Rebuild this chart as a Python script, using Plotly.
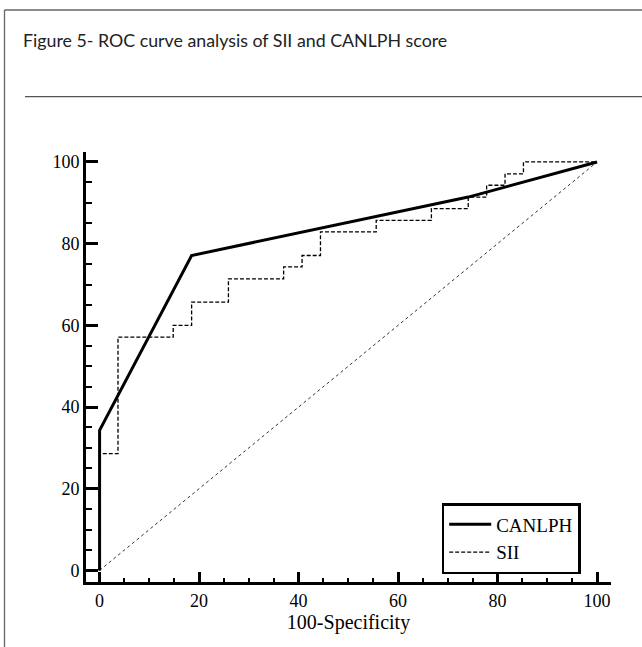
import plotly.graph_objects as go

# ---- data ----
canlph_fpr = [0, 0, 18.5, 74.1, 100]
canlph_tpr = [0, 34.3, 77.1, 91.4, 100]

sii_fpr = [0, 3.7, 14.8, 18.5, 25.9, 37.0, 40.7, 44.4, 55.6, 66.7, 74.1, 77.8, 81.5, 85.2, 100]
sii_tpr = [0, 28.6, 57.1, 60.0, 65.7, 71.4, 74.3, 77.1, 82.9, 85.7, 88.6, 91.4, 94.3, 97.1, 100]

ref_x = [0, 100]
ref_y = [0, 100]

tick_vals = [0, 20, 40, 60, 80, 100]
tick_text = ["0", "20", "40", "60", "80", "100"]

title_text = "Figure 5- ROC curve analysis of SII and CANLPH score"
x_title = "100-Specificity"

# ---- layout geometry ----
W, H = 642, 647
L, R, T, B = 86, 31, 152, 65
PW, PH = W - L - R, H - T - B


def px(xp):
    return (xp - L) / PW


def py(yp):
    return (H - B - yp) / PH


serif = "Liberation Serif, Times New Roman, serif"

fig = go.Figure()
fig.add_trace(go.Scatter(x=ref_x, y=ref_y, mode="lines", showlegend=False,
                         line=dict(color="#333333", width=1, dash="dot"), hoverinfo="skip"))
fig.add_trace(go.Scatter(x=canlph_fpr, y=canlph_tpr, mode="lines", name="CANLPH",
                         line=dict(color="black", width=3)))
fig.add_trace(go.Scatter(x=sii_fpr, y=sii_tpr, mode="lines", name="SII", line_shape="vh",
                         line=dict(color="black", width=1.3, dash="4px,2px")))

axis_common = dict(
    showline=True, linecolor="black", linewidth=3, mirror=False,
    showgrid=False, zeroline=False,
    tickvals=tick_vals, ticktext=tick_text, ticks="inside", tickwidth=2.5,
    tickcolor="black", tickfont=dict(family=serif, size=18, color="black"),
)

fig.update_xaxes(**axis_common, range=[-2.73, 102.8], ticklen=10,
                 minor=dict(ticks="inside", ticklen=4, tickwidth=1.5, dtick=5, tickcolor="black"),
                 title=dict(text=x_title, font=dict(family=serif, size=20, color="black"), standoff=4))
fig.update_yaxes(**axis_common, range=[-2.84, 102.44], ticklen=12,
                 minor=dict(ticks="inside", ticklen=6, tickwidth=1.5, dtick=5, tickcolor="black"))

frame = dict(color="#666666", width=1.3)
shapes = [
    # outer frame (top and left edges; right/bottom are cropped in the reference)
    dict(type="line", xref="paper", yref="paper", x0=px(4.5), x1=px(642), y0=py(10), y1=py(10), line=frame),
    dict(type="line", xref="paper", yref="paper", x0=px(4.5), x1=px(4.5), y0=py(10), y1=py(647), line=frame),
    # separator under title
    dict(type="line", xref="paper", yref="paper", x0=px(25), x1=px(642), y0=py(96.7), y1=py(96.7),
         line=dict(color="#555555", width=1.3)),
]

fig.update_layout(
    width=W, height=H,
    margin=dict(l=L, r=R, t=T, b=B, autoexpand=False),
    paper_bgcolor="white", plot_bgcolor="white",
    shapes=shapes,
    annotations=[dict(text=title_text, xref="paper", yref="paper", x=px(20.5), y=py(40),
                      xanchor="left", yanchor="middle", showarrow=False,
                      font=dict(family="Lato, sans-serif", size=17.8, color="#222222"))],
    legend=dict(x=px(441.7), y=py(503), xanchor="left", yanchor="top",
                bordercolor="black", borderwidth=2.5, bgcolor="white", itemwidth=42,
                font=dict(family=serif, size=19, color="black"), tracegroupgap=0),
)

fig.write_html("out.html", config={"displayModeBar": False})
